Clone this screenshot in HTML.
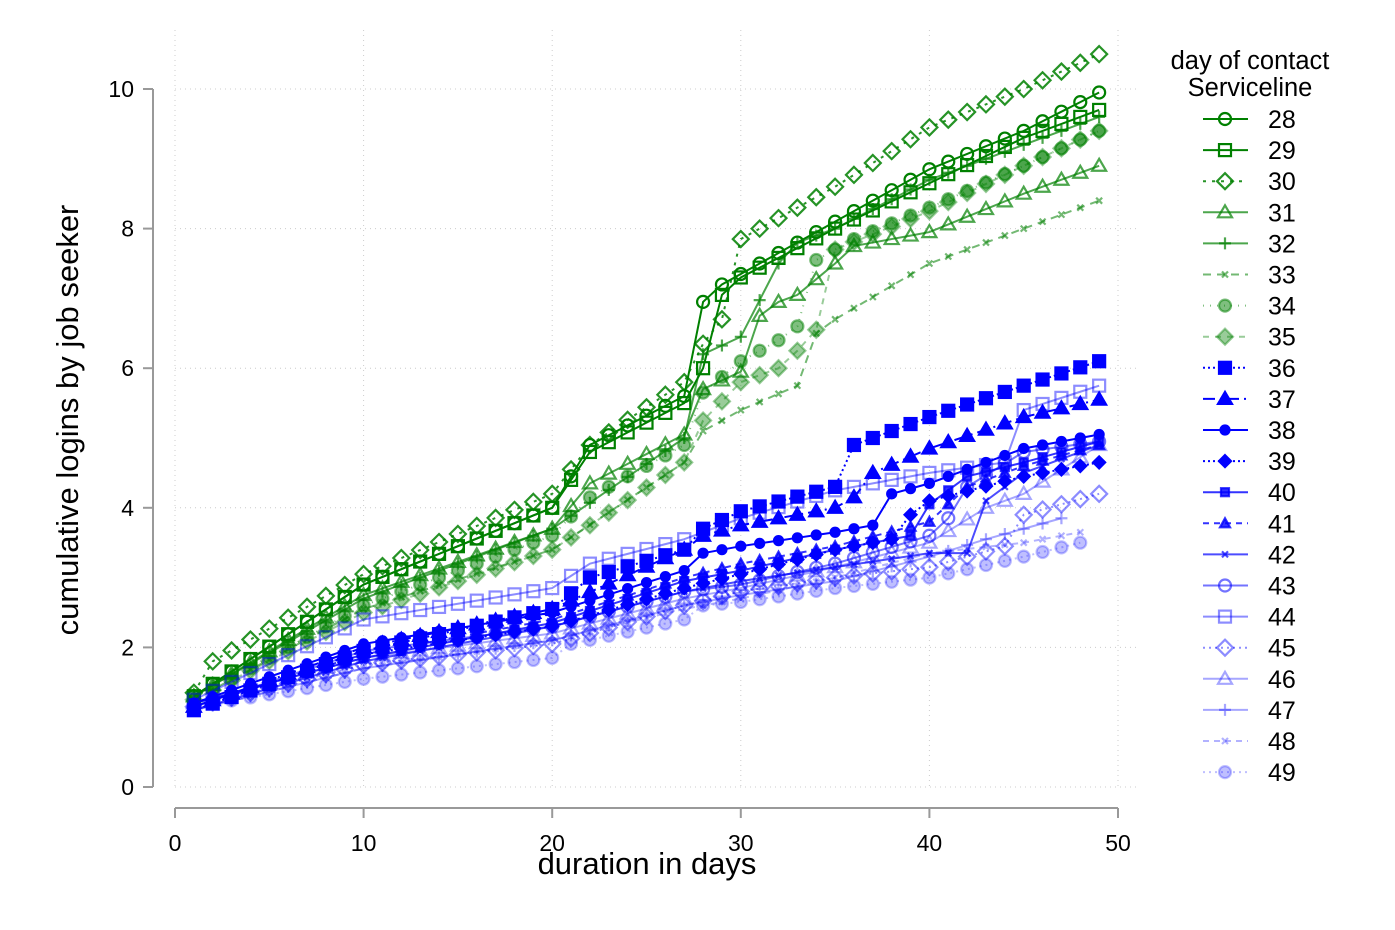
<!DOCTYPE html>
<html><head><meta charset="utf-8"><style>
html,body{margin:0;padding:0;background:#fff;}
svg{display:block;font-family:"Liberation Sans",Arial,sans-serif;}
</style></head><body>
<svg id="s" width="1395" height="930" xmlns="http://www.w3.org/2000/svg"></svg>
<script>
const X=d=>175+d*18.86, Y=v=>787-v*69.8;
let o='<rect width="1395" height="930" fill="#fff"/>';
for(let i=0;i<=5;i++){const x=X(i*10);o+=`<line x1="${x}" y1="30" x2="${x}" y2="787" stroke="#ccc" stroke-dasharray="1,4"/>`;}
for(let i=0;i<=5;i++){const y=Y(i*2);o+=`<line x1="175" y1="${y}" x2="1140" y2="${y}" stroke="#ccc" stroke-dasharray="1,4"/>`;}
o+=`<line x1="153" y1="89" x2="153" y2="787" stroke="#999" stroke-width="2"/>`;
o+=`<line x1="175" y1="808" x2="1118" y2="808" stroke="#999" stroke-width="2"/>`;
for(let i=0;i<=5;i++){const y=Y(i*2);o+=`<line x1="143" y1="${y}" x2="153" y2="${y}" stroke="#999" stroke-width="2"/><text x="134" y="${y+8}" font-size="23" text-anchor="end">${i*2}</text>`;}
for(let i=0;i<=5;i++){const x=X(i*10);o+=`<line x1="${x}" y1="808" x2="${x}" y2="818" stroke="#999" stroke-width="2"/><text x="${x}" y="851" font-size="23" text-anchor="middle">${i*10}</text>`;}
o+=`<text x="647" y="874" font-size="31" text-anchor="middle">duration in days</text>`;
o+=`<text transform="translate(78,420) rotate(-90)" font-size="31" text-anchor="middle">cumulative logins by job seeker</text>`;
const G='0,128,0',B='0,0,255';
const S=[
[28,G,1,'circ',0,'',{1:1.3,10:2.9,20:4.0,22:4.9,27:5.6,28:6.95,29:7.2,30:7.35,35:8.1,40:8.85,45:9.4,49:9.95}],
[29,G,1,'sq',0,'',{1:1.3,10:2.9,20:4.0,22:4.8,27:5.5,28:6.0,29:7.05,30:7.3,35:8.0,40:8.65,45:9.3,49:9.7}],
[30,G,.85,'dia',0,'3,6',{1:1.35,2:1.8,10:3.05,20:4.2,22:4.9,27:5.8,28:6.35,29:6.7,30:7.85,35:8.6,40:9.45,45:10.0,49:10.5}],
[31,G,.7,'tri',0,'',{1:1.3,10:2.75,20:3.7,22:4.35,27:5.05,28:5.7,30:5.95,31:6.75,32:6.95,33:7.05,35:7.5,36:7.75,40:7.95,45:8.5,49:8.9}],
[32,G,.7,'plus',0,'',{1:1.3,10:2.7,20:3.7,27:5.0,28:6.2,30:6.45,32:7.5,33:7.8,35:8.0,40:8.7,49:9.6}],
[33,G,.55,'x',0,'8,6',{1:1.25,10:2.55,20:3.4,27:4.65,28:5.1,30:5.4,33:5.75,34:6.5,35:6.7,40:7.5,45:8.0,49:8.4}],
[34,G,.5,'circ',1,'1,6',{1:1.25,10:2.6,20:3.6,22:4.15,27:4.9,28:5.65,30:6.1,32:6.4,33:6.6,34:7.55,36:7.85,40:8.3,45:8.9,49:9.4}],
[35,G,.4,'dia',1,'6,6',{1:1.25,10:2.5,20:3.4,22:3.75,27:4.65,28:5.25,30:5.8,32:6.0,33:6.25,34:6.55,35:7.7,40:8.25,45:8.9,49:9.4}],
[36,B,1,'sq',1,'2,3',{1:1.1,10:1.95,20:2.55,22:3.0,27:3.4,28:3.7,30:3.95,35:4.3,36:4.9,40:5.3,45:5.75,49:6.1}],
[37,B,1,'tri',1,'12,5,2,5',{1:1.15,10:2.0,20:2.55,27:3.4,28:3.6,30:3.75,35:4.0,36:4.15,37:4.5,40:4.85,45:5.3,49:5.55}],
[38,B,1,'circs',1,'',{1:1.2,10:2.05,20:2.5,27:3.1,28:3.35,30:3.45,35:3.65,37:3.75,38:4.2,40:4.35,45:4.85,49:5.05}],
[39,B,1,'dias',1,'2,3',{1:1.15,10:1.9,20:2.3,27:2.85,30:3.05,35:3.4,38:3.55,39:3.9,40:4.1,45:4.45,49:4.65}],
[40,B,.8,'sqs',1,'',{1:1.2,10:1.85,20:2.35,27:2.95,30:3.1,35:3.4,39:3.6,40:4.05,42:4.45,45:4.65,49:4.95}],
[41,B,.8,'tris',1,'6,5',{1:1.15,10:1.9,20:2.4,27:3.0,30:3.2,35:3.45,40:3.8,42:4.3,45:4.6,49:4.9}],
[42,B,.7,'x',0,'',{1:1.1,10:1.8,20:2.3,27:2.8,30:2.95,35:3.15,40:3.35,42:3.35,43:4.1,45:4.5,49:4.9}],
[43,B,.55,'circ',0,'',{1:1.15,10:1.95,20:2.3,27:2.8,30:2.9,35:3.2,40:3.6,41:3.85,42:4.3,45:4.8,49:4.95}],
[44,B,.45,'sq',0,'',{1:1.25,10:2.4,20:2.85,22:3.2,27:3.55,30:3.85,35:4.25,40:4.5,44:4.65,45:5.4,49:5.75}],
[45,B,.45,'dia',0,'2,4',{1:1.15,10:1.75,20:2.05,27:2.6,30:2.8,35:3.0,40:3.15,44:3.45,45:3.9,49:4.2}],
[46,B,.35,'tri',0,'',{1:1.2,10:1.85,20:2.2,27:2.7,30:2.85,35:3.15,40:3.5,43:4.0,45:4.2,49:4.9}],
[47,B,.35,'plus',0,'',{1:1.1,10:1.7,20:2.1,27:2.6,30:2.75,35:2.95,40:3.3,43:3.55,45:3.7,47:3.85}],
[48,B,.3,'x',0,'6,5',{1:1.1,10:1.7,20:2.1,27:2.55,30:2.7,35:3.0,40:3.35,45:3.5,48:3.65}],
[49,B,.25,'circ',1,'2,4',{1:1.15,10:1.55,20:1.85,21:2.05,27:2.4,28:2.6,30:2.65,35:2.85,40:3.0,45:3.3,48:3.5}],
];
function mk(t,x,y,c,f){
 const fill=f?c:'none',sw=2.2;
 switch(t){
 case 'circ':return `<circle cx="${x}" cy="${y}" r="6" fill="${fill}" stroke="${c}" stroke-width="${sw}"/>`;
 case 'circs':return `<circle cx="${x}" cy="${y}" r="4.5" fill="${fill}" stroke="${c}" stroke-width="${sw}"/>`;
 case 'sq':return `<rect x="${x-6}" y="${y-6}" width="12" height="12" fill="${fill}" stroke="${c}" stroke-width="${sw}"/>`;
 case 'sqs':return `<rect x="${x-4}" y="${y-4}" width="8" height="8" fill="${fill}" stroke="${c}" stroke-width="${sw}"/>`;
 case 'dia':return `<polygon points="${x},${y-8} ${x+8},${y} ${x},${y+8} ${x-8},${y}" fill="${fill}" stroke="${c}" stroke-width="${sw}"/>`;
 case 'dias':return `<polygon points="${x},${y-6} ${x+6},${y} ${x},${y+6} ${x-6},${y}" fill="${fill}" stroke="${c}" stroke-width="${sw}"/>`;
 case 'tri':return `<polygon points="${x},${y-7} ${x+7},${y+5} ${x-7},${y+5}" fill="${fill}" stroke="${c}" stroke-width="${sw}"/>`;
 case 'tris':return `<polygon points="${x},${y-5} ${x+5},${y+4} ${x-5},${y+4}" fill="${fill}" stroke="${c}" stroke-width="${sw}"/>`;
 case 'plus':return `<path d="M${x-6} ${y}H${x+6}M${x} ${y-6}V${y+6}" stroke="${c}" stroke-width="${sw}"/>`;
 case 'x':return `<path d="M${x-3} ${y-3}L${x+3} ${y+3}M${x-3} ${y+3}L${x+3} ${y-3}" stroke="${c}" stroke-width="${sw}"/>`;
 }}
function interp(k,d){const ks=Object.keys(k).map(Number).sort((a,b)=>a-b);
 if(d>ks[ks.length-1])return null;
 for(let i=0;i<ks.length-1;i++){if(d>=ks[i]&&d<=ks[i+1]){const t=(d-ks[i])/(ks[i+1]-ks[i]);return k[ks[i]]+t*(k[ks[i+1]]-k[ks[i]]);}}
 return k[ks[0]];}
S.forEach((s,i)=>{
 const [n,col,a,m,f,da,k]=s;const c=`rgba(${col},${a})`;
 let pts=[];for(let d=1;d<=49;d++){const v=interp(k,d);if(v!=null)pts.push([X(d),Y(v)]);}
 o+=`<polyline points="${pts.map(p=>p.join(',')).join(' ')}" fill="none" stroke="${c}" stroke-width="2" ${da?`stroke-dasharray="${da}"`:''}/>`;
 pts.forEach(p=>o+=mk(m,p[0],p[1],c,f));
 const ly=119+i*31.1;
 o+=`<line x1="1203" y1="${ly}" x2="1248" y2="${ly}" stroke="${c}" stroke-width="2" ${da?`stroke-dasharray="${da}"`:''}/>`+mk(m,1225,ly,c,f);
 o+=`<text x="1268" y="${ly+9}" font-size="25">${n}</text>`;
});
o+=`<text x="1250" y="69" font-size="25.5" text-anchor="middle">day of contact</text><text x="1250" y="96" font-size="25.5" text-anchor="middle">Serviceline</text>`;
document.getElementById('s').innerHTML=o;
</script>
</body></html>
